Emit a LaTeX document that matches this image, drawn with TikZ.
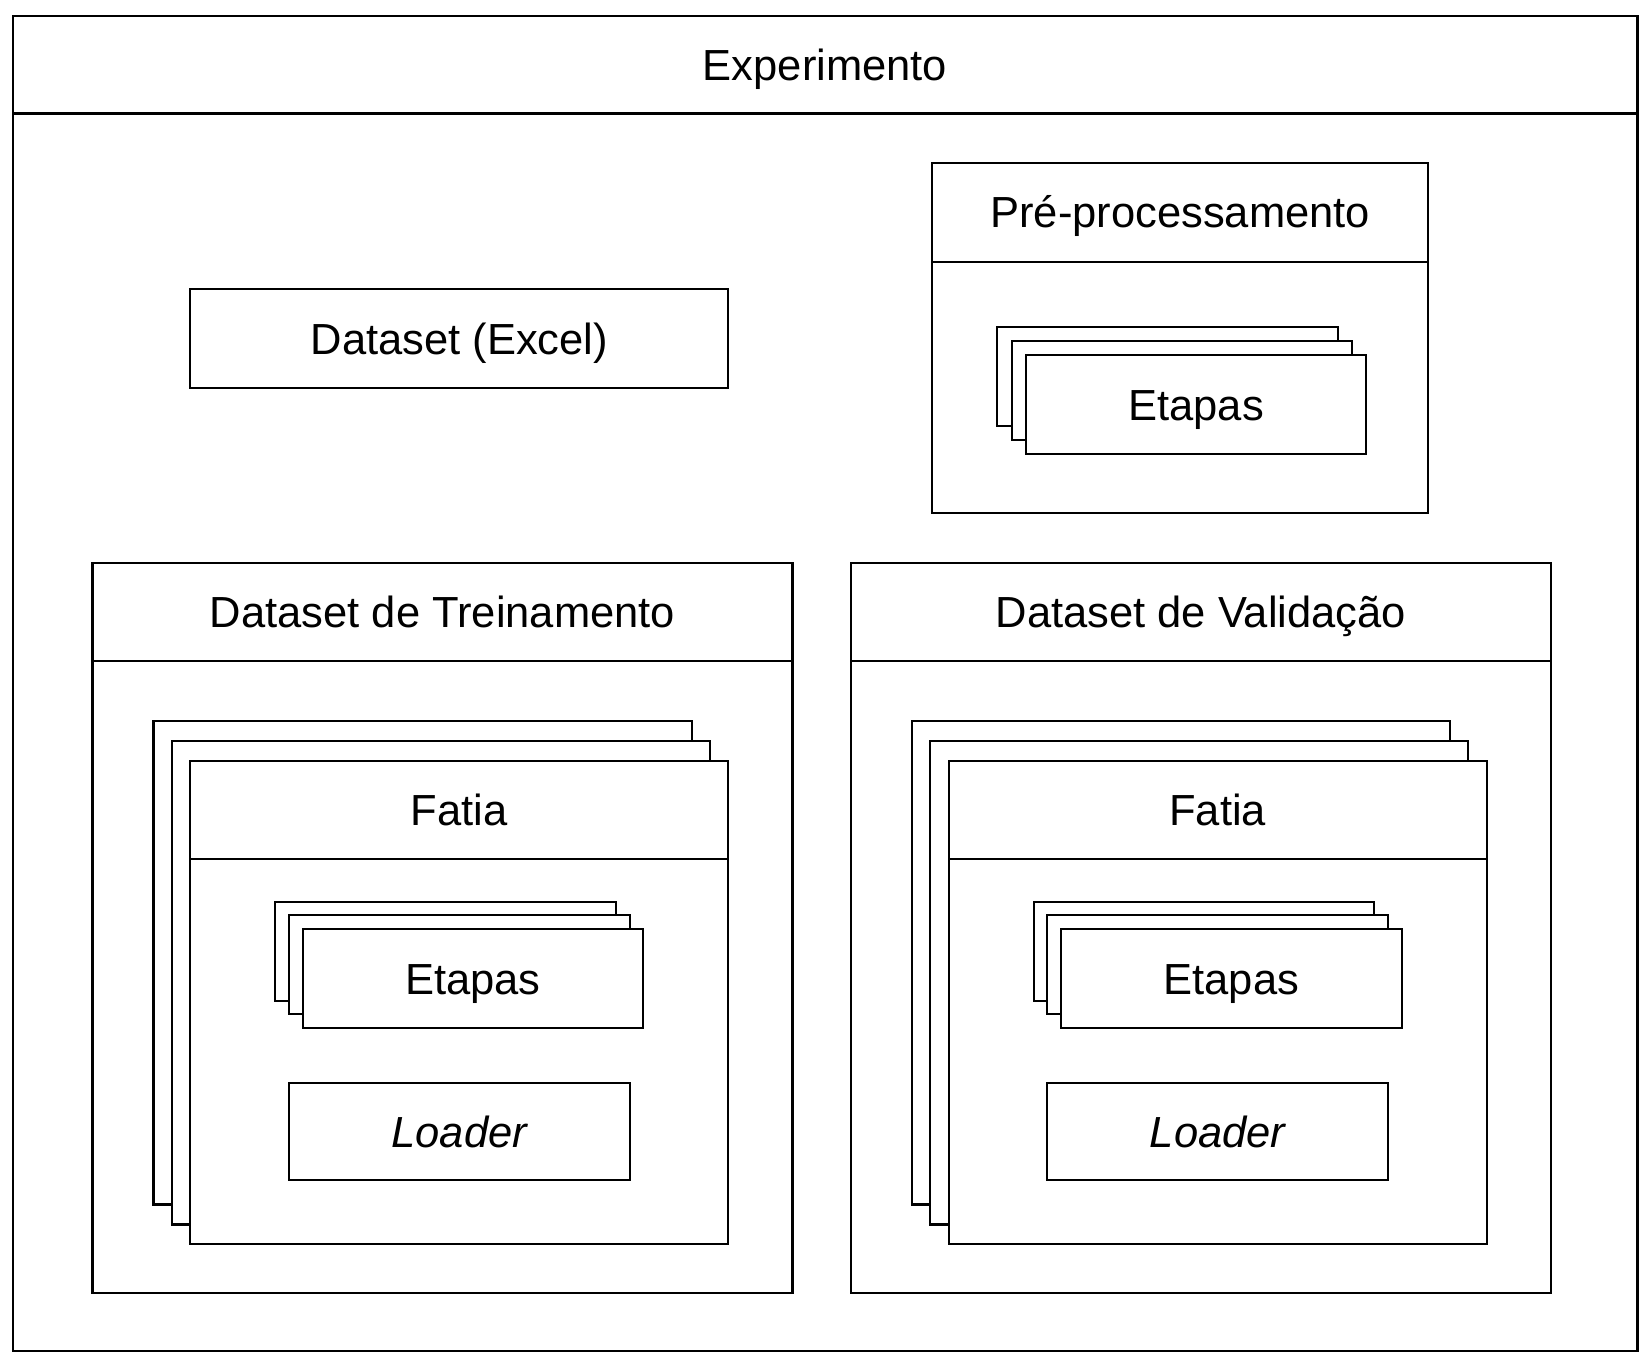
\documentclass[tikz,border=0pt]{standalone}
\usepackage{fontspec}
\setmainfont{Liberation Sans}

% three stacked boxes, front box given, the others shifted back
\newcommand{\pilha}[6]{%
  \foreach \k in {2,1,0}{
    \draw[caixa] ({#1-\k*#5},{#2-\k*#6}) rectangle ({#3-\k*#5},{#4-\k*#6});
  }%
}

\begin{document}
\begin{tikzpicture}[x=0.5pt,y=-0.5pt,
  caixa/.style={draw, line width=1pt, fill=white},
  divisa/.style={line width=1pt},
  rotulo/.style={font=\fontsize{20.7}{25}\selectfont, inner sep=0pt,
    text height=14.9pt, text depth=0pt}]
  \useasboundingbox (0,0) rectangle (1568,1300);
  % experimento
  \draw[caixa] (12,15) rectangle (1558,1285);
  \draw[divisa] (12,108) -- (1558,108);
  \node[rotulo] (experimento) at (785,61.5) {Experimento};
  % dataset original
  \draw[caixa] (181,275) rectangle (693,369);
  \node[rotulo] (excel) at (437,322) {Dataset (Excel)};
  % pre-processamento
  \draw[caixa] (887,155) rectangle (1359,488);
  \draw[divisa] (887,249) -- (1359,249);
  \node[rotulo] (preproc) at (1123,202) {Pré-processamento};
  \pilha{976}{338}{1300}{432}{13.5}{13.5}
  \node[rotulo] (etapas-pre) at (1138,385) {Etapas};
  % treino e validacao
  \foreach \dx/\nome/\id in {0/Dataset de Treinamento/treino, 721.5/Dataset de Validação/valid}{
    \begin{scope}[shift={(\dx,0)}]
      \draw[caixa] (88,536) rectangle (754,1230);
      \draw[divisa] (88,629) -- (754,629);
      \node[rotulo] (\id-titulo) at (421,582.5) {\nome};
      \pilha{181}{724}{693}{1184}{17.5}{19}
      \draw[divisa] (181,817) -- (693,817);
      \node[rotulo] (\id-fatia) at (437,770.5) {Fatia};
      \pilha{288}{884}{612}{978}{13}{13}
      \node[rotulo] (\id-etapas) at (450,931) {Etapas};
      \draw[caixa] (275,1030) rectangle (599,1123);
      \node[rotulo] (\id-loader) at (437,1076.5) {\itshape Loader};
    \end{scope}
  }
\end{tikzpicture}
\end{document}
